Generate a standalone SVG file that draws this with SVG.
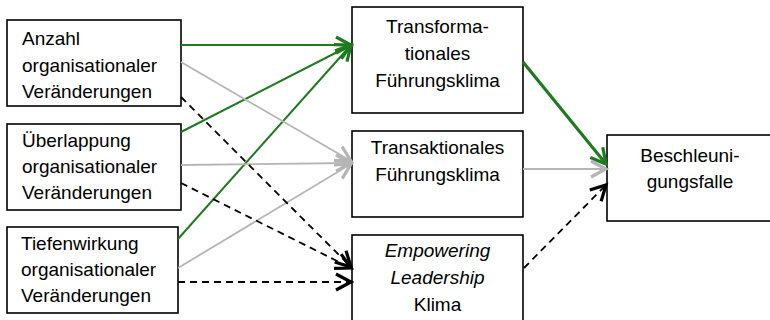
<svg xmlns="http://www.w3.org/2000/svg" width="770" height="320" viewBox="0 0 770 320">
<style>
.box{fill:#fff;stroke:#000;stroke-width:1.6}
.t{font-family:"Liberation Sans",Arial,sans-serif;font-size:19px;fill:#000}
.c{text-anchor:middle}
.i{font-style:italic}
.g{stroke:#1f7a1f;stroke-width:2;fill:none}
.gt{stroke:#1f7a1f;stroke-width:3.2;fill:none}
.gr{stroke:#b5b5b5;stroke-width:1.8;fill:none}
.bk{stroke:#000;stroke-width:1.8;fill:none;stroke-dasharray:7,5}
</style>
<defs>
<marker id="mg" viewBox="0 0 18 20" refX="17" refY="10" markerWidth="18" markerHeight="20" markerUnits="userSpaceOnUse" orient="auto" overflow="visible"><path d="M2,2 L17,10 L2,18" fill="none" stroke="#1f7a1f" stroke-width="3.2"/></marker>
<marker id="mgr" viewBox="0 0 18 20" refX="17" refY="10" markerWidth="18" markerHeight="20" markerUnits="userSpaceOnUse" orient="auto" overflow="visible"><path d="M2,2 L17,10 L2,18" fill="none" stroke="#b5b5b5" stroke-width="3.2"/></marker>
<marker id="mb" viewBox="0 0 18 20" refX="17" refY="10" markerWidth="18" markerHeight="20" markerUnits="userSpaceOnUse" orient="auto" overflow="visible"><path d="M2,2 L17,10 L2,18" fill="none" stroke="#000" stroke-width="3.2"/></marker>
</defs>
<g id="n-anzahl">
<rect class="box" x="7" y="20" width="174" height="86"/>
<text class="t" x="22" y="45">Anzahl</text>
<text class="t" x="22" y="72">organisationaler</text>
<text class="t" x="22" y="98">Veränderungen</text>
</g>
<g id="n-ueberlappung">
<rect class="box" x="7" y="124" width="174" height="86"/>
<text class="t" x="22" y="147">Überlappung</text>
<text class="t" x="22" y="173">organisationaler</text>
<text class="t" x="22" y="199">Veränderungen</text>
</g>
<g id="n-tiefenwirkung">
<rect class="box" x="7" y="227" width="171" height="86"/>
<text class="t" x="21" y="250">Tiefenwirkung</text>
<text class="t" x="21" y="276">organisationaler</text>
<text class="t" x="21" y="302">Veränderungen</text>
</g>
<g id="n-transformational">
<rect class="box" x="352" y="7" width="171" height="106"/>
<text class="t c" x="437.5" y="33">Transforma-</text>
<text class="t c" x="437.5" y="60">tionales</text>
<text class="t c" x="437.5" y="87">Führungsklima</text>
</g>
<g id="n-transaktional">
<rect class="box" x="352" y="131" width="171" height="86"/>
<text class="t c" x="437.5" y="154">Transaktionales</text>
<text class="t c" x="437.5" y="181">Führungsklima</text>
</g>
<g id="n-empowering">
<rect class="box" x="352" y="235" width="171" height="95"/>
<text class="t c i" x="437.5" y="257">Empowering</text>
<text class="t c i" x="437.5" y="284">Leadership</text>
<text class="t c" x="437.5" y="311">Klima</text>
</g>
<g id="n-beschleunigungsfalle">
<rect class="box" x="607" y="135" width="170" height="86"/>
<text class="t c" x="690" y="162">Beschleuni-</text>
<text class="t c" x="690" y="188">gungsfalle</text>
</g>
<g id="connectors">
<line class="g" x1="181" y1="45" x2="351" y2="45" marker-end="url(#mg)"/>
<line class="g" x1="181" y1="132" x2="351" y2="45" marker-end="url(#mg)"/>
<line class="g" x1="178" y1="239" x2="351" y2="45" marker-end="url(#mg)"/>
<line class="gr" x1="181" y1="62" x2="351" y2="161" marker-end="url(#mgr)"/>
<line class="gr" x1="181" y1="165" x2="351" y2="163" marker-end="url(#mgr)"/>
<line class="gr" x1="178" y1="268" x2="351" y2="164" marker-end="url(#mgr)"/>
<line class="bk" x1="181" y1="97" x2="351" y2="267" marker-end="url(#mb)"/>
<line class="bk" x1="181" y1="183" x2="351" y2="268" marker-end="url(#mb)"/>
<line class="bk" x1="178" y1="282" x2="351" y2="282" marker-end="url(#mb)"/>
<line class="gt" x1="523" y1="62" x2="606" y2="164" marker-end="url(#mg)"/>
<line class="gr" x1="523" y1="169" x2="606" y2="169" marker-end="url(#mgr)"/>
<line class="bk" x1="524" y1="268" x2="606" y2="185" marker-end="url(#mb)"/>
</g>
</svg>
